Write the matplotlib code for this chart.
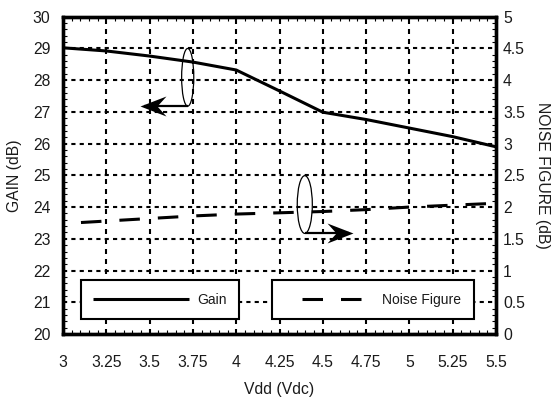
import matplotlib
matplotlib.use("Agg")
import matplotlib.pyplot as plt
from matplotlib.patches import Ellipse
from matplotlib.path import Path
from matplotlib.ticker import MultipleLocator

plt.rcParams['font.family'] = ['Liberation Sans', 'DejaVu Sans']
plt.rcParams['lines.scale_dashes'] = False

# ---- data ----
vdd = [3.0, 3.25, 3.5, 3.75, 4.0, 4.25, 4.5, 4.75, 5.0, 5.25, 5.5]
gain_db = [29.02, 28.92, 28.76, 28.57, 28.32, 27.66, 26.99, 26.76, 26.49, 26.22, 25.9]
noise_figure_db = [1.74, 1.78, 1.82, 1.86, 1.89, 1.91, 1.93, 1.96, 2.0, 2.03, 2.06]
x_tick_labels = ['3', '3.25', '3.5', '3.75', '4', '4.25', '4.5', '4.75', '5', '5.25', '5.5']
gain_ticks = [20, 21, 22, 23, 24, 25, 26, 27, 28, 29, 30]
nf_ticks = [0, 0.5, 1, 1.5, 2, 2.5, 3, 3.5, 4, 4.5, 5]
nf_tick_labels = ['0', '0.5', '1', '1.5', '2', '2.5', '3', '3.5', '4', '4.5', '5']

TXT = '#1a1a1a'
fig = plt.figure(figsize=(5.55, 4.01), dpi=100)
ax = fig.add_axes([63 / 555, 67 / 401, 433 / 555, 317.3 / 401])
ax2 = ax.twinx()

ax.set_xlim(3, 5.5)
ax.set_ylim(20, 30)
ax2.set_ylim(0, 5)

ax.set_xticks(vdd, labels=x_tick_labels)
ax.set_yticks(gain_ticks, labels=[str(t) for t in gain_ticks])
ax2.set_yticks(nf_ticks, labels=nf_tick_labels)
ax.xaxis.set_minor_locator(MultipleLocator(0.05))
ax.yaxis.set_minor_locator(MultipleLocator(0.2))
ax2.yaxis.set_minor_locator(MultipleLocator(0.1))

ax.tick_params(axis='x', which='both', direction='in', top=True, bottom=True)
ax.tick_params(axis='x', which='major', length=0, pad=15, labelsize=11.3, labelcolor=TXT)
ax.tick_params(axis='x', which='minor', length=3, width=0.8)
ax.tick_params(axis='y', which='both', direction='in', left=True, right=False)
ax.tick_params(axis='y', which='major', length=0, pad=9, labelsize=11.3, labelcolor=TXT)
ax.tick_params(axis='y', which='minor', length=3, width=0.8)
ax2.tick_params(axis='y', which='both', direction='in')
ax2.tick_params(axis='y', which='major', length=0, pad=5, labelsize=11.3, labelcolor=TXT)
ax2.tick_params(axis='y', which='minor', length=3, width=0.8)

ax.xaxis.grid(True, which='major', color='black', linewidth=1.5, linestyle=(0, (3.6, 3.6)))
ax.yaxis.grid(True, which='major', color='black', linewidth=1.5, linestyle=(0, (3.0, 3.0)))

for a in (ax, ax2):
    for s in a.spines.values():
        s.set_linewidth(2.4)
        s.set_color('black')

ax.set_xlabel('Vdd (Vdc)', fontsize=11.3, color=TXT, labelpad=9)
ax.set_ylabel('GAIN (dB)', fontsize=11.3, color=TXT, labelpad=8)
ax2.set_ylabel('NOISE FIGURE (dB)', fontsize=11.3, color=TXT, rotation=270,
               labelpad=18)

gl, = ax.plot(vdd, gain_db, color='black', linewidth=2.2, label='Gain',
              solid_capstyle='butt')
nl, = ax2.plot(vdd, noise_figure_db, color='black', linewidth=2.2,
               linestyle=(14.76, (14.76, 12.96)), label='Noise Figure')

# barbed arrowhead marker shapes (tip at the origin)
head_left = Path([(0, 0), (26, 10), (17, 0), (26, -10), (0, 0)],
                 [Path.MOVETO, Path.LINETO, Path.LINETO, Path.LINETO, Path.CLOSEPOLY])
head_right = Path([(0, 0), (-26, 10), (-17, 0), (-26, -10), (0, 0)],
                  [Path.MOVETO, Path.LINETO, Path.LINETO, Path.LINETO, Path.CLOSEPOLY])
HEAD_MS = 37.4

# annotation ellipses + arrows (gain-axis coordinates)
ax.add_patch(Ellipse((3.72, 28.09), 0.07, 1.82, fill=False, edgecolor='black', linewidth=0.9))
ax.plot([3.72, 3.47], [27.18, 27.18], color='black', linewidth=1.6, solid_capstyle='butt')
ax.plot([3.445], [27.18], linestyle='none', marker=head_left, markersize=HEAD_MS,
        markerfacecolor='black', markeredgewidth=0)

ax.add_patch(Ellipse((4.396, 24.08), 0.087, 1.82, fill=False, edgecolor='black', linewidth=0.9))
ax.plot([4.396, 4.65], [23.17, 23.17], color='black', linewidth=1.6, solid_capstyle='butt')
ax.plot([4.674], [23.17], linestyle='none', marker=head_right, markersize=HEAD_MS,
        markerfacecolor='black', markeredgewidth=0)

leg_kw = dict(loc='lower left', borderaxespad=0, fancybox=False, framealpha=1,
              edgecolor='black', fontsize=10, borderpad=0.9, labelcolor=TXT)
leg1 = ax2.legend(handles=[gl], bbox_to_anchor=(0.041, 0.047),
                  handlelength=6.9, handletextpad=0.6, **leg_kw)
leg1.get_frame().set_linewidth(1.5)
ax2.add_artist(leg1)
leg2 = ax2.legend(handles=[nl], bbox_to_anchor=(0.482, 0.047),
                  handlelength=5.75, handletextpad=1.3, **leg_kw)
leg2.get_frame().set_linewidth(1.5)

fig.savefig('out.png', dpi=100)
